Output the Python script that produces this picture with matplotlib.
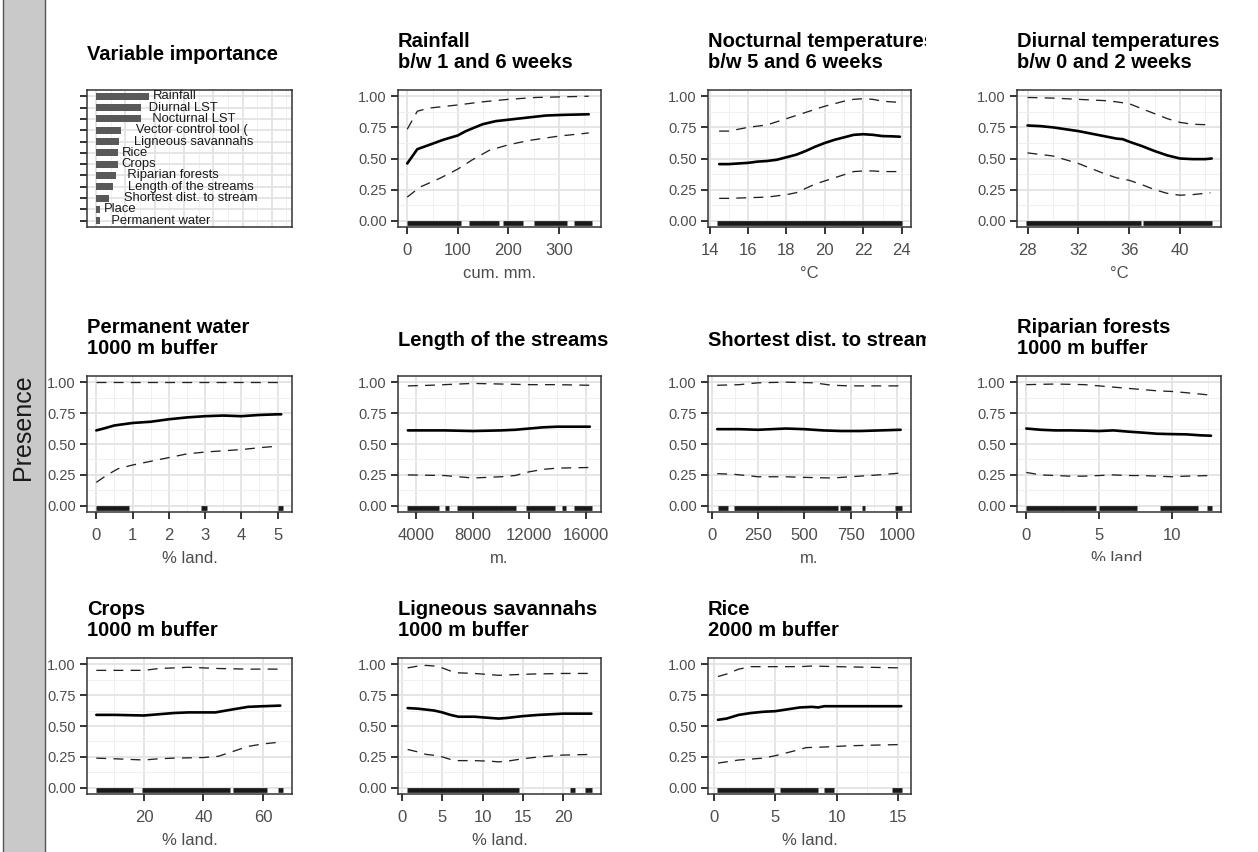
import matplotlib
matplotlib.use("Agg")
import matplotlib.pyplot as plt
from matplotlib.patches import Rectangle
from matplotlib.transforms import Bbox
from matplotlib.ticker import FixedLocator

plt.rcParams['font.family'] = ['Liberation Sans', 'DejaVu Sans']

# ---------------- data ----------------
vi_labels = ["Rainfall", " Diurnal LST", "  Nocturnal LST", "   Vector control tool (",
             "   Ligneous savannahs", "Rice", "Crops", "  Riparian forests",
             "   Length of the streams", "   Shortest dist. to stream", "Place", "  Permanent water"]
vi_values = [18.1, 15.4, 15.4, 8.5, 7.8, 7.5, 7.5, 6.8, 5.8, 4.4, 1.4, 1.4]

rain_x = [0, 20, 44, 71, 100, 116, 149, 175, 208, 241, 274, 306, 359]
rain_fit = [0.46, 0.575, 0.61, 0.65, 0.685, 0.72, 0.775, 0.80, 0.815, 0.83, 0.845, 0.85, 0.855]
rain_up_x = [0, 20, 44, 100, 149, 200, 254, 359]
rain_up = [0.735, 0.88, 0.905, 0.93, 0.955, 0.975, 0.99, 1.0]
rain_lo_x = [0, 25, 64, 100, 129, 162, 200, 241, 300, 359]
rain_lo = [0.19, 0.27, 0.34, 0.415, 0.49, 0.565, 0.61, 0.645, 0.68, 0.705]
rain_rug = [(0, 107), (123, 182), (189, 228), (251, 316), (329, 365)]

noct_x = [14.5, 15, 15.5, 16, 16.5, 17, 17.5, 18, 18.5, 19, 19.5, 20, 20.5, 21, 21.5, 22, 22.5, 23, 23.5, 23.9]
noct_fit = [0.455, 0.455, 0.46, 0.465, 0.475, 0.48, 0.49, 0.51, 0.53, 0.56, 0.595, 0.625, 0.65, 0.67, 0.69, 0.695, 0.69, 0.68, 0.678, 0.675]
noct_up_x = [14.5, 15, 16, 17, 18, 19, 20, 21, 21.5, 22, 22.5, 23, 23.9]
noct_up = [0.72, 0.72, 0.75, 0.77, 0.82, 0.87, 0.92, 0.96, 0.975, 0.98, 0.975, 0.96, 0.95]
noct_lo_x = [14.5, 15, 16, 17, 18, 18.5, 19, 19.5, 20, 20.5, 21, 21.5, 22, 22.5, 23, 23.9]
noct_lo = [0.18, 0.18, 0.185, 0.19, 0.21, 0.225, 0.26, 0.295, 0.32, 0.345, 0.37, 0.395, 0.40, 0.40, 0.395, 0.395]
noct_rug = [(14.4, 24.0)]

diur_x = [28, 29, 30, 31, 32, 33, 34, 35, 35.5, 36, 37, 38, 39, 40, 41, 42, 42.5]
diur_fit = [0.765, 0.76, 0.75, 0.735, 0.72, 0.70, 0.68, 0.66, 0.655, 0.635, 0.60, 0.56, 0.525, 0.50, 0.495, 0.495, 0.50]
diur_up_x = [28, 30, 32, 34, 35, 36, 37, 38, 39, 40, 41, 42.4]
diur_up = [0.99, 0.985, 0.975, 0.965, 0.955, 0.94, 0.90, 0.86, 0.82, 0.79, 0.775, 0.77]
diur_lo_x = [28, 30, 32, 33, 34, 35, 36, 37, 38, 39, 40, 41, 42.4]
diur_lo = [0.545, 0.52, 0.46, 0.42, 0.38, 0.345, 0.325, 0.29, 0.25, 0.22, 0.205, 0.21, 0.225]
diur_rug = [(27.9, 36.9), (37.1, 42.5)]

perm_x = [0, 0.2, 0.5, 1, 1.5, 2, 2.5, 3, 3.5, 4, 4.5, 5, 5.1]
perm_fit = [0.61, 0.625, 0.65, 0.67, 0.68, 0.70, 0.715, 0.725, 0.73, 0.725, 0.735, 0.74, 0.74]
perm_up_x = [0, 5.1]
perm_up = [1.0, 1.0]
perm_lo_x = [0, 0.3, 0.6, 1, 1.5, 2, 2.5, 3, 3.5, 4, 4.5, 4.9]
perm_lo = [0.19, 0.25, 0.30, 0.33, 0.36, 0.39, 0.42, 0.435, 0.445, 0.455, 0.47, 0.48]
perm_rug = [(0, 0.9), (2.9, 3.05), (5.0, 5.14)]

len_x = [3400, 6000, 8000, 10000, 11000, 12000, 13000, 14000, 15000, 16300]
len_fit = [0.61, 0.61, 0.605, 0.61, 0.615, 0.625, 0.635, 0.64, 0.64, 0.64]
len_up_x = [3400, 5000, 6000, 8000, 10000, 12000, 14000, 16300]
len_up = [0.97, 0.975, 0.98, 0.99, 0.985, 0.98, 0.98, 0.975]
len_lo_x = [3400, 6000, 8000, 10000, 11000, 12000, 13000, 14000, 16300]
len_lo = [0.25, 0.245, 0.225, 0.235, 0.245, 0.275, 0.295, 0.305, 0.31]
len_rug = [(3354, 5600), (6000, 6300), (6900, 11100), (11800, 13800), (14300, 14600), (15200, 16442)]

dist_x = [30, 150, 250, 400, 500, 600, 700, 800, 1020]
dist_fit = [0.62, 0.62, 0.615, 0.625, 0.62, 0.61, 0.605, 0.605, 0.615]
dist_up_x = [30, 150, 250, 400, 550, 650, 750, 1020]
dist_up = [0.975, 0.98, 0.995, 1.0, 0.995, 0.975, 0.97, 0.97]
dist_lo_x = [30, 120, 250, 400, 500, 650, 750, 900, 1020]
dist_lo = [0.26, 0.255, 0.235, 0.235, 0.23, 0.225, 0.235, 0.25, 0.265]
dist_rug = [(32, 90), (120, 680), (690, 750), (810, 830), (990, 1026)]

ripa_x = [0, 1, 2, 3, 4, 5, 6, 7, 8, 9, 10, 11, 12, 12.7]
ripa_fit = [0.625, 0.615, 0.61, 0.61, 0.608, 0.605, 0.61, 0.60, 0.592, 0.583, 0.58, 0.578, 0.57, 0.567]
ripa_up_x = [0, 2, 4, 5, 6, 7, 8, 9, 10, 11, 12.7]
ripa_up = [0.98, 0.985, 0.98, 0.97, 0.96, 0.95, 0.94, 0.93, 0.925, 0.915, 0.895]
ripa_lo_x = [0, 1, 2, 3, 4, 5, 6, 7, 8, 9, 10, 11, 12.7]
ripa_lo = [0.27, 0.25, 0.245, 0.24, 0.24, 0.245, 0.25, 0.245, 0.245, 0.24, 0.235, 0.24, 0.245]
ripa_rug = [(0, 4.8), (5.0, 7.6), (9.2, 11.8), (12.4, 12.75)]

crop_x = [4, 10, 20, 25, 30, 35, 40, 44, 50, 55, 60, 65.8]
crop_fit = [0.59, 0.59, 0.585, 0.595, 0.605, 0.61, 0.61, 0.61, 0.635, 0.655, 0.66, 0.665]
crop_up_x = [4, 10, 20, 25, 35, 45, 55, 65.8]
crop_up = [0.95, 0.95, 0.95, 0.965, 0.975, 0.965, 0.96, 0.96]
crop_lo_x = [4, 10, 20, 25, 30, 40, 45, 50, 55, 60, 65.8]
crop_lo = [0.24, 0.235, 0.225, 0.235, 0.24, 0.245, 0.255, 0.295, 0.335, 0.355, 0.37]
crop_rug = [(4.0, 16.4), (19.2, 49), (50, 61.4), (65, 66.6)]

lign_x = [0.7, 2, 4, 5, 6, 7, 8, 9, 10, 11, 12, 13, 15, 17, 20, 23.5]
lign_fit = [0.645, 0.64, 0.625, 0.61, 0.59, 0.575, 0.575, 0.575, 0.57, 0.565, 0.56, 0.565, 0.58, 0.59, 0.60, 0.60]
lign_up_x = [0.7, 2, 3, 4, 5, 6, 7, 9, 11, 12, 14, 16, 20, 23.5]
lign_up = [0.97, 0.985, 0.99, 0.985, 0.97, 0.945, 0.93, 0.925, 0.915, 0.91, 0.915, 0.92, 0.925, 0.925]
lign_lo_x = [0.7, 2, 3, 4.5, 6, 7, 9, 11, 12, 13, 15, 17, 20, 23.5]
lign_lo = [0.31, 0.29, 0.27, 0.26, 0.23, 0.22, 0.22, 0.215, 0.21, 0.215, 0.235, 0.25, 0.265, 0.27]
lign_rug = [(0.65, 14.5), (20.8, 21.5), (22.7, 23.55)]

rice_x = [0.3, 1, 2, 3, 4, 5, 6, 7, 8, 8.5, 9, 10, 12, 15.3]
rice_fit = [0.55, 0.56, 0.59, 0.605, 0.615, 0.62, 0.635, 0.65, 0.655, 0.65, 0.66, 0.66, 0.66, 0.66]
rice_up_x = [0.3, 1, 2, 3, 5, 7, 8, 10, 15.3]
rice_up = [0.90, 0.92, 0.96, 0.98, 0.98, 0.98, 0.985, 0.98, 0.97]
rice_lo_x = [0.3, 2, 4, 5, 6, 7, 7.5, 9, 11, 13, 15.3]
rice_lo = [0.20, 0.225, 0.24, 0.26, 0.285, 0.31, 0.325, 0.33, 0.34, 0.345, 0.35]
rice_rug = [(0.24, 4.9), (5.4, 8.5), (9.0, 9.8), (14.5, 15.34)]

y_ticks = [0.0, 0.25, 0.5, 0.75, 1.0]
y_ticklabels = ["0.00", "0.25", "0.50", "0.75", "1.00"]

panels = [
    dict(title=["Rainfall", "b/w 1 and 6 weeks"], xlabel="cum. mm.", xticks=[0, 100, 200, 300],
         fit=(rain_x, rain_fit), up=(rain_up_x, rain_up), lo=(rain_lo_x, rain_lo), rug=rain_rug),
    dict(title=["Nocturnal temperatures", "b/w 5 and 6 weeks"], xlabel="°C", xticks=[14, 16, 18, 20, 22, 24],
         fit=(noct_x, noct_fit), up=(noct_up_x, noct_up), lo=(noct_lo_x, noct_lo), rug=noct_rug),
    dict(title=["Diurnal temperatures", "b/w 0 and 2 weeks"], xlabel="°C", xticks=[28, 32, 36, 40],
         fit=(diur_x, diur_fit), up=(diur_up_x, diur_up), lo=(diur_lo_x, diur_lo), rug=diur_rug),
    dict(title=["Permanent water", "1000 m buffer"], xlabel="% land.", xticks=[0, 1, 2, 3, 4, 5],
         fit=(perm_x, perm_fit), up=(perm_up_x, perm_up), lo=(perm_lo_x, perm_lo), rug=perm_rug),
    dict(title=["Length of the streams"], xlabel="m.", xticks=[4000, 8000, 12000, 16000],
         fit=(len_x, len_fit), up=(len_up_x, len_up), lo=(len_lo_x, len_lo), rug=len_rug),
    dict(title=["Shortest dist. to stream"], xlabel="m.", xticks=[0, 250, 500, 750, 1000],
         fit=(dist_x, dist_fit), up=(dist_up_x, dist_up), lo=(dist_lo_x, dist_lo), rug=dist_rug),
    dict(title=["Riparian forests", "1000 m buffer"], xlabel="% land.", xticks=[0, 5, 10],
         fit=(ripa_x, ripa_fit), up=(ripa_up_x, ripa_up), lo=(ripa_lo_x, ripa_lo), rug=ripa_rug),
    dict(title=["Crops", "1000 m buffer"], xlabel="% land.", xticks=[20, 40, 60],
         fit=(crop_x, crop_fit), up=(crop_up_x, crop_up), lo=(crop_lo_x, crop_lo), rug=crop_rug),
    dict(title=["Ligneous savannahs", "1000 m buffer"], xlabel="% land.", xticks=[0, 5, 10, 15, 20],
         fit=(lign_x, lign_fit), up=(lign_up_x, lign_up), lo=(lign_lo_x, lign_lo), rug=lign_rug),
    dict(title=["Rice", "2000 m buffer"], xlabel="% land.", xticks=[0, 5, 10, 15],
         fit=(rice_x, rice_fit), up=(rice_up_x, rice_up), lo=(rice_lo_x, rice_lo), rug=rice_rug),
]

# ---------------- layout ----------------
W, H = 1258, 852
fig = plt.figure(figsize=(W / 100, H / 100), dpi=100)
fig.patch.set_facecolor('white')

cols = [(87, 292), (398, 601), (708, 911), (1017, 1221)]
rows = [(90, 227), (376, 512), (658, 794)]
slots = [(0, 1), (0, 2), (0, 3), (1, 0), (1, 1), (1, 2), (1, 3), (2, 0), (2, 1), (2, 2)]

GRID_MAJ = '#e3e3e3'
GRID_MIN = '#f0f0f0'
BORDER = '#333333'
TXT = '#4d4d4d'


def add_ax(l, r, t, b):
    return fig.add_axes([l / W, 1 - b / H, (r - l) / W, (b - t) / H])


def style(ax):
    for s in ax.spines.values():
        s.set_color(BORDER)
        s.set_linewidth(1.1)
    ax.set_facecolor('white')
    ax.grid(True, which='major', color=GRID_MAJ, lw=1.3)
    ax.grid(True, which='minor', color=GRID_MIN, lw=0.7)
    ax.set_axisbelow(True)
    ax.tick_params(which='major', length=5, width=1.4, color=BORDER, direction='out')
    ax.tick_params(which='minor', length=0)
    ax.tick_params(axis='y', labelsize=10.5, labelcolor=TXT, pad=3)
    ax.tick_params(axis='x', labelsize=12, labelcolor=TXT, pad=6.5)


def add_title(lines, left_px, top_px, clip=None):
    if len(lines) == 2:
        bases = [top_px - 43, top_px - 22]
    else:
        bases = [top_px - 30]
    for txt, base in zip(lines, bases):
        t = fig.text(left_px / W, 1 - base / H, txt, ha='left', va='baseline',
                     fontsize=14.5, fontweight='bold', color='black')
        if clip is not None:
            t.set_clip_box(clip)
            t.set_clip_on(True)


# left strip with "Presence"
fig.add_artist(Rectangle((3 / W, -0.01), 42 / W, 1.02, transform=fig.transFigure,
                         facecolor='#c9c9c9', edgecolor='#555555', lw=1.0))
fig.text(23 / W, 1 - 427 / H, "Presence", rotation=90, ha='center', va='center',
         fontsize=18, color='#1a1a1a')

# variable importance panel
ax = add_ax(cols[0][0], cols[0][1], rows[0][0], rows[0][1])
style(ax)
n = len(vi_values)
ypos = list(range(n))
ax.barh(ypos, vi_values, height=0.62, color='#595959', zorder=2)
for yv, v, lab in zip(ypos, vi_values, vi_labels):
    ax.text(v + 1.3, yv, lab, ha='left', va='center', fontsize=9.4, color='#1a1a1a', zorder=3)
ax.set_xlim(-3.1, 66.9)
ax.set_ylim(n - 0.45, -0.55)
ax.set_yticks(ypos)
ax.set_yticklabels([])
ax.xaxis.set_major_locator(FixedLocator([0, 10, 20, 30, 40, 50, 60]))
ax.xaxis.set_minor_locator(FixedLocator([5, 15, 25, 35, 45, 55, 65]))
ax.tick_params(axis='x', length=0, labelbottom=False)
ax.grid(True, which='major', axis='y', color=GRID_MAJ, lw=1.3)
add_title(["Variable importance"], cols[0][0], rows[0][0])

col3_clip = Bbox.from_extents(0, 0, 926, H)
bottom_clip = Bbox.from_extents(0, H - 561, W, H)

for p, (ri, ci) in zip(panels, slots):
    l, r = cols[ci]
    t, b = rows[ri]
    ax = add_ax(l, r, t, b)
    style(ax)
    xs_all = list(p['fit'][0]) + [a for a, _ in p['rug']] + [e for _, e in p['rug']]
    xmin, xmax = min(xs_all), max(xs_all)
    rng = xmax - xmin
    ax.set_xlim(xmin - 0.05 * rng, xmax + 0.05 * rng)
    ax.set_ylim(-0.05, 1.05)
    ax.set_yticks(y_ticks)
    ax.set_yticklabels(y_ticklabels)
    ax.yaxis.set_minor_locator(FixedLocator([0.125, 0.375, 0.625, 0.875]))
    xt = p['xticks']
    ax.set_xticks(xt)
    ax.set_xticklabels([str(v) for v in xt])
    step = xt[1] - xt[0]
    minors = [xt[0] - step / 2] + [v + step / 2 for v in xt]
    ax.xaxis.set_minor_locator(FixedLocator(minors))
    # rug
    for a, e in p['rug']:
        ax.plot([a, e], [-0.02, -0.02], color='black', lw=3.4, solid_capstyle='butt',
                alpha=0.9, zorder=2)
    ax.plot(*p['up'], color='#222222', lw=0.95, ls=(0, (7.5, 5.5)), zorder=3)
    ax.plot(*p['lo'], color='#222222', lw=0.95, ls=(0, (7.5, 5.5)), zorder=3)
    ax.plot(*p['fit'], color='black', lw=1.9, solid_capstyle='round', zorder=4)
    xl = ax.set_xlabel(p['xlabel'], fontsize=12, color=TXT, labelpad=6)
    if (ri, ci) == (1, 3):
        xl.set_clip_box(bottom_clip)
        xl.set_clip_on(True)
    add_title(p['title'], l, t, clip=col3_clip if ci == 2 else None)

fig.savefig("out.png", dpi=100, facecolor='white')
